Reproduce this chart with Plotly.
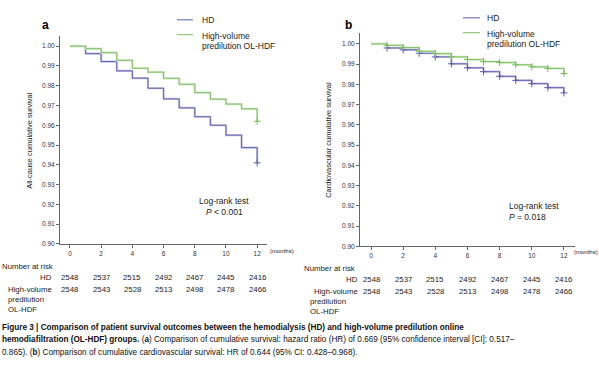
import plotly.graph_objects as go

months = [0, 1, 2, 3, 4, 5, 6, 7, 8, 9, 10, 11, 12]
a_hd = [1.0, 0.9962, 0.9922, 0.9875, 0.9838, 0.9787, 0.9733, 0.9688, 0.9643, 0.9600, 0.9550, 0.9487, 0.9410]
a_hdf = [1.0, 0.9987, 0.9967, 0.9928, 0.9888, 0.9868, 0.9837, 0.9807, 0.9765, 0.9732, 0.9707, 0.9683, 0.9620]
b_hd = [1.0, 0.9980, 0.9971, 0.9954, 0.9936, 0.9902, 0.9882, 0.9863, 0.9840, 0.9820, 0.9804, 0.9784, 0.9758]
b_hdf = [1.0, 0.9993, 0.9982, 0.9964, 0.9952, 0.9936, 0.9923, 0.9913, 0.9908, 0.9897, 0.9887, 0.9879, 0.9854]

risk_months = [0, 2, 4, 6, 8, 10, 12]
risk_hd = [2548, 2537, 2515, 2492, 2467, 2445, 2416]
risk_hdf = [2548, 2543, 2528, 2513, 2498, 2478, 2466]

y_ticks = [0.90, 0.91, 0.92, 0.93, 0.94, 0.95, 0.96, 0.97, 0.98, 0.99, 1.00]
x_ticks = [0, 2, 4, 6, 8, 10, 12]

W, H = 599, 365
FONT = "Liberation Sans, Arial, sans-serif"
HD_D, HD_L = "#5b5bab", "#c4c4e4"
HDF_D, HDF_L = "#79bd5e", "#cfe9c2"
AX = "#666666"

def px(x):
    return x / W

def py(y):
    return 1 - y / H

fig = go.Figure()

def add_curve(xa, ya, ys, dark, light, censor_all):
    fig.add_trace(go.Scatter(x=months, y=ys, mode="lines", line=dict(color=light, width=2.2, shape="hv"),
                             xaxis=xa, yaxis=ya, showlegend=False, hoverinfo="skip"))
    fig.add_trace(go.Scatter(x=months, y=ys, mode="lines", line=dict(color=dark, width=0.9, shape="hv"),
                             xaxis=xa, yaxis=ya, showlegend=False))
    cx = months[1:] if censor_all else months[-1:]
    cy = ys[1:] if censor_all else ys[-1:]
    fig.add_trace(go.Scatter(x=cx, y=cy, mode="markers",
                             marker=dict(symbol="cross-thin", size=5, line=dict(color=dark, width=1)),
                             xaxis=xa, yaxis=ya, showlegend=False))

add_curve("x", "y", a_hd, HD_D, HD_L, False)
add_curve("x", "y", a_hdf, HDF_D, HDF_L, False)
add_curve("x2", "y2", b_hd, HD_D, HD_L, True)
add_curve("x2", "y2", b_hdf, HDF_D, HDF_L, True)

axis_common = dict(showgrid=False, zeroline=False, showline=True, linecolor=AX, linewidth=1,
                   ticks="outside", ticklen=3, tickcolor=AX, tickwidth=1,
                   tickfont=dict(family=FONT, size=6.5, color="#333333"))

fig.update_layout(
    width=W, height=H, margin=dict(l=0, r=0, t=0, b=0),
    paper_bgcolor="white", plot_bgcolor="white", showlegend=False,
    xaxis=dict(domain=[px(60), px(267)], range=[-0.64, 12.63], tickvals=x_ticks, anchor="y", **axis_common),
    yaxis=dict(domain=[py(246), py(36.7)], range=[0.90, 1.0049], tickvals=y_ticks, tickformat=".2f", anchor="x", **axis_common),
    xaxis2=dict(domain=[px(360), px(575)], range=[-0.684, 12.69], tickvals=x_ticks, anchor="y2", **axis_common),
    yaxis2=dict(domain=[py(248.3), py(33.3)], range=[0.90, 1.0054], tickvals=y_ticks, tickformat=".2f", anchor="x2", **axis_common),
)

ann = []
def text(x, y, s, size=8, anchor="left", bold=False, angle=0, color="#222222", yanchor="middle", xref="paper"):
    if bold:
        s = "<b>" + s + "</b>"
    ann.append(dict(x=x, y=y, xref=xref, yref="paper", text=s, showarrow=False,
                    xanchor=anchor, yanchor=yanchor, textangle=angle,
                    font=dict(family=FONT, size=size, color=color)))

# panel letters
text(px(40), py(25), "a", size=12, bold=True, color="#000")
text(px(343), py(25), "b", size=12, bold=True, color="#000")

# legends
shapes = []
for (lx0, lx1, ly, tx, ty2) in [(177, 193, 20, 200, 36), (463, 480, 18, 485, 34)]:
    shapes.append(dict(type="line", xref="paper", yref="paper", x0=px(lx0), x1=px(lx1), y0=py(ly), y1=py(ly),
                       line=dict(color=HD_D, width=1)))
    shapes.append(dict(type="line", xref="paper", yref="paper", x0=px(lx0), x1=px(lx1), y0=py(ly + 15), y1=py(ly + 15),
                       line=dict(color=HDF_D, width=1)))
    text(px(tx), py(ly), "HD", size=8.5)
    text(px(tx), py(ty2), "High-volume", size=8.5)
    text(px(tx), py(ty2 + 10.5), "predilution OL-HDF", size=8.5)

# axis titles
text(px(30), py(142), "All-cause cumulative survival", size=7.5, anchor="center", angle=-90)
text(px(329), py(141), "Cardiovascular cumulative survival", size=7.5, anchor="center", angle=-90)

# months labels
text(px(268), py(253.5), "(months)", size=6)
text(px(572), py(254), "(months)", size=6)

# log-rank
text(px(224), py(203), "Log-rank test", size=8.5, anchor="center")
text(px(224), py(214), "<i>P</i> < 0.001", size=8.5, anchor="center")
text(px(507), py(208), "Log-rank test", size=8.5)
text(px(507), py(219), "<i>P</i> = 0.018", size=8.5)

# number at risk tables
for xr, x0_lab, hd_right, yb in [("x", 0, 54, 269), ("x2", 302, 360, 271)]:
    text(px(x0_lab), py(yb), "Number at risk", size=7.8)
    text(px(hd_right), py(yb + 10.5), "HD", size=7.8, anchor="right")
    text(px(hd_right), py(yb + 23), "High-volume", size=7.8, anchor="right")
    text(px(x0_lab + 6), py(yb + 33), "predilution", size=7.8)
    text(px(x0_lab + 6), py(yb + 43), "OL-HDF", size=7.8)
    for m, v1, v2 in zip(risk_months, risk_hd, risk_hdf):
        ann.append(dict(x=m, xref=xr, y=py(yb + 10.5), yref="paper", text=str(v1), showarrow=False,
                        xanchor="center", yanchor="middle", font=dict(family=FONT, size=7.8, color="#222")))
        ann.append(dict(x=m, xref=xr, y=py(yb + 23), yref="paper", text=str(v2), showarrow=False,
                        xanchor="center", yanchor="middle", font=dict(family=FONT, size=7.8, color="#222")))

# caption
cap1 = "<b>Figure 3 | Comparison of patient survival outcomes between the hemodialysis (HD) and high-volume predilution online</b>"
cap2 = "<b>hemodiafiltration (OL-HDF) groups.</b> (<b>a</b>) Comparison of cumulative survival: hazard ratio (HR) of 0.669 (95% confidence interval [CI]: 0.517–"
cap3 = "0.865). (<b>b</b>) Comparison of cumulative cardiovascular survival: HR of 0.644 (95% CI: 0.428–0.968)."
for i, c in enumerate([cap1, cap2, cap3]):
    ann.append(dict(x=0, y=py(330 + 12.5 * i), xref="paper", yref="paper", text=c, showarrow=False,
                    xanchor="left", yanchor="middle", font=dict(family=FONT, size=8.2, color="#111")))

fig.update_layout(annotations=ann, shapes=shapes)
fig.write_html("out.html", config={"displayModeBar": False},
               post_script="document.body.style.margin='0';document.body.style.overflow='hidden';")
